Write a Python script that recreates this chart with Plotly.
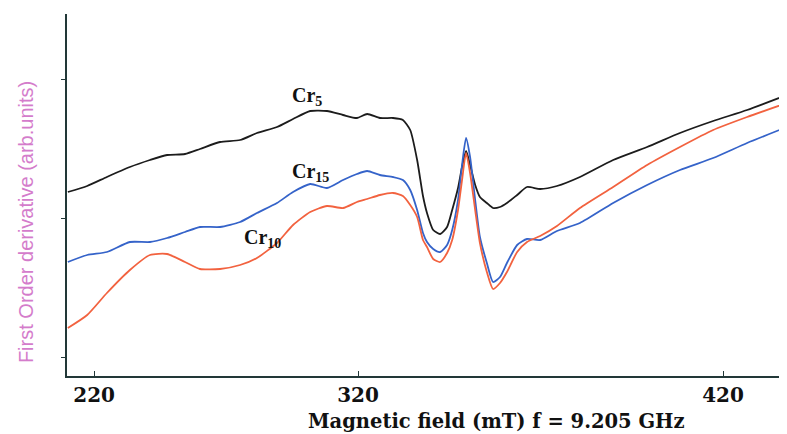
import plotly.graph_objects as go

# Magnetic field (mT)
field = [240.5, 245.8, 251.2, 257.5, 263.0, 267.7, 272.6, 276.7, 282.2, 287.7,
         292.3, 297.8, 302.2, 306.9, 311.5, 315.9, 319.7, 322.5, 326.0, 329.6,
         332.3, 334.3, 336.2, 337.8, 338.9, 340.6, 342.5, 344.4, 345.8, 347.4,
         348.5, 349.6, 350.7, 352.1, 353.4, 355.3, 357.0, 358.9, 360.8, 363.6,
         366.3, 369.9, 374.5, 380.8, 389.9, 399.2, 408.2, 417.3, 426.6, 437.5]

# First order derivative (arb. units)
cr5 = [1.84, 1.90, 1.99, 2.09, 2.16, 2.21, 2.22, 2.27, 2.34, 2.36,
       2.43, 2.49, 2.57, 2.65, 2.65, 2.61, 2.58, 2.62, 2.58, 2.58,
       2.56, 2.46, 2.16, 1.80, 1.63, 1.46, 1.42, 1.49, 1.66, 1.88,
       2.09, 2.25, 2.11, 1.91, 1.79, 1.73, 1.68, 1.69, 1.73, 1.81,
       1.89, 1.87, 1.90, 1.99, 2.16, 2.29, 2.43, 2.55, 2.66, 2.81]

cr15 = [1.14, 1.21, 1.24, 1.34, 1.34, 1.38, 1.44, 1.49, 1.49, 1.54,
        1.63, 1.73, 1.84, 1.92, 1.88, 1.96, 2.02, 2.05, 2.01, 1.99,
        1.96, 1.86, 1.66, 1.43, 1.34, 1.27, 1.24, 1.31, 1.46, 1.76,
        2.11, 2.38, 2.19, 1.76, 1.39, 1.13, 0.94, 0.99, 1.13, 1.31,
        1.37, 1.36, 1.45, 1.53, 1.73, 1.91, 2.06, 2.18, 2.33, 2.49]

cr10 = [0.48, 0.61, 0.83, 1.06, 1.21, 1.22, 1.14, 1.07, 1.07, 1.11,
        1.18, 1.33, 1.51, 1.64, 1.70, 1.68, 1.74, 1.77, 1.81, 1.83,
        1.80, 1.71, 1.59, 1.36, 1.29, 1.17, 1.14, 1.23, 1.36, 1.66,
        1.96, 2.23, 2.03, 1.66, 1.33, 1.04, 0.87, 0.93, 1.04, 1.24,
        1.34, 1.40, 1.50, 1.68, 1.89, 2.11, 2.29, 2.46, 2.59, 2.73]

x_tick_vals = [247.7, 320, 420]
x_tick_text = ["220", "320", "420"]
y_tick_vals = [0.19, 1.58, 2.97]

series = [
    ("Cr5", cr5, "#1c1c1c"),
    ("Cr15", cr15, "#3563c9"),
    ("Cr10", cr10, "#f2623f"),
]

serif = "DejaVu Serif, Liberation Serif, serif"

fig = go.Figure()
for name, vals, color in series:
    fig.add_trace(go.Scatter(x=field, y=vals, mode="lines", name=name,
                             line=dict(color=color, width=1.8, shape="spline",
                                       smoothing=0.6),
                             hoverinfo="skip"))

label_font = dict(family="Liberation Serif, Times New Roman, serif", size=20, color="#111")
for txt, lx, ly in [("<b>Cr<sub>5</sub></b>", 301.3, 2.80),
                    ("<b>Cr<sub>15</sub></b>", 301.3, 2.04),
                    ("<b>Cr<sub>10</sub></b>", 288.3, 1.38)]:
    fig.add_annotation(x=lx, y=ly, text=txt, showarrow=False, xanchor="left",
                       yanchor="middle", font=label_font)

fig.add_annotation(xref="paper", yref="paper", x=0.596, y=-0.088,
                   text="<b>Magnetic field (mT) f = 9.205 GHz</b>",
                   showarrow=False, xanchor="center", yanchor="top",
                   font=dict(family=serif, size=19.5, color="#111"))

fig.add_annotation(xref="paper", yref="paper", x=-0.057, y=0.425,
                   text="First Order derivative (arb.units)", textangle=-90,
                   showarrow=False, xanchor="center", yanchor="middle",
                   font=dict(family="Liberation Sans, Arial, sans-serif",
                             size=20, color="#d47ccb"))

fig.update_layout(
    width=779, height=426,
    margin=dict(l=59, r=0, t=6, b=58),
    paper_bgcolor="white", plot_bgcolor="white",
    showlegend=False,
    xaxis=dict(range=[240.27, 437.53], tickvals=x_tick_vals, ticktext=x_tick_text,
               showgrid=False, zeroline=False, showline=True, linecolor="#223838",
               linewidth=2, ticks="inside", ticklen=5, tickcolor="#223838",
               tickfont=dict(family=serif, size=20, color="#111", weight="bold")),
    yaxis=dict(range=[0, 3.62], tickvals=y_tick_vals, showticklabels=False,
               showgrid=False, zeroline=False, showline=True, linecolor="#223838",
               linewidth=2, ticks="outside", ticklen=4, tickcolor="#223838"),
)

fig.write_html("out.html")
